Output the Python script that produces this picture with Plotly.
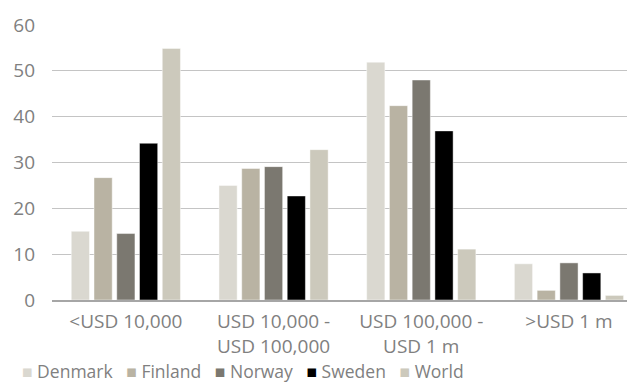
import plotly.graph_objects as go

categories = ["<USD 10,000", "USD 10,000 -<br>USD 100,000", "USD 100,000 -<br>USD 1 m", ">USD 1 m"]
series_names = ["Denmark", "Finland", "Norway", "Sweden", "World"]
denmark = [15.0, 25.0, 51.9, 7.9]
finland = [26.7, 28.7, 42.4, 2.1]
norway = [14.5, 29.1, 48.0, 8.1]
sweden = [34.2, 22.7, 36.9, 5.9]
world = [54.9, 32.8, 11.1, 1.0]
y_ticks = [0, 10, 20, 30, 40, 50, 60]

colors = ["#dad8d0", "#b9b3a3", "#7b7870", "#000000", "#ccc9bc"]
values = [denmark, finland, norway, sweden, world]
text_color = "#808080"
font_family = "Open Sans, Noto Sans, sans-serif"

fig = go.Figure()
for name, vals, c in zip(series_names, values, colors):
    fig.add_trace(go.Bar(
        x=categories, y=vals, name=name,
        marker=dict(color=c, line=dict(color="rgba(255,255,255,0.45)", width=1)),
    ))

# legend drawn as a single text line built from the series names/colours
legend_text = "&nbsp;&nbsp;&nbsp;".join(
    f"<span style='color:{c}'>■</span>&nbsp;{n}" for n, c in zip(series_names, colors)
)
fig.add_annotation(
    xref="paper", yref="paper", x=-0.055, y=-0.2565, xanchor="left", yanchor="middle",
    text=legend_text, showarrow=False,
    font=dict(family=font_family, size=17.5, color=text_color),
)

# the page body adds an 8px offset, so margins are shifted to keep the plot in place
fig.update_layout(
    width=635, height=383,
    margin=dict(l=44, r=8, t=17, b=91, autoexpand=False),
    paper_bgcolor="white", plot_bgcolor="white",
    barmode="group", bargap=0.23, bargroupgap=0.2,
    font=dict(family=font_family, size=19, color=text_color),
    showlegend=False,
)
fig.update_xaxes(
    type="category", range=[-0.5, 3.447],
    showline=True, linecolor="#a6a6a6", linewidth=2,
    ticks="", showgrid=False, tickfont=dict(size=19, color=text_color),
    ticklabelstandoff=3,
)
fig.update_yaxes(
    range=[0, 60], tickvals=y_ticks, showgrid=True, gridcolor="#c4c4c4", gridwidth=1,
    zeroline=False, showline=False, ticks="", ticklabelstandoff=16,
    tickfont=dict(size=19, color=text_color),
)

fig.write_html("out.html")
